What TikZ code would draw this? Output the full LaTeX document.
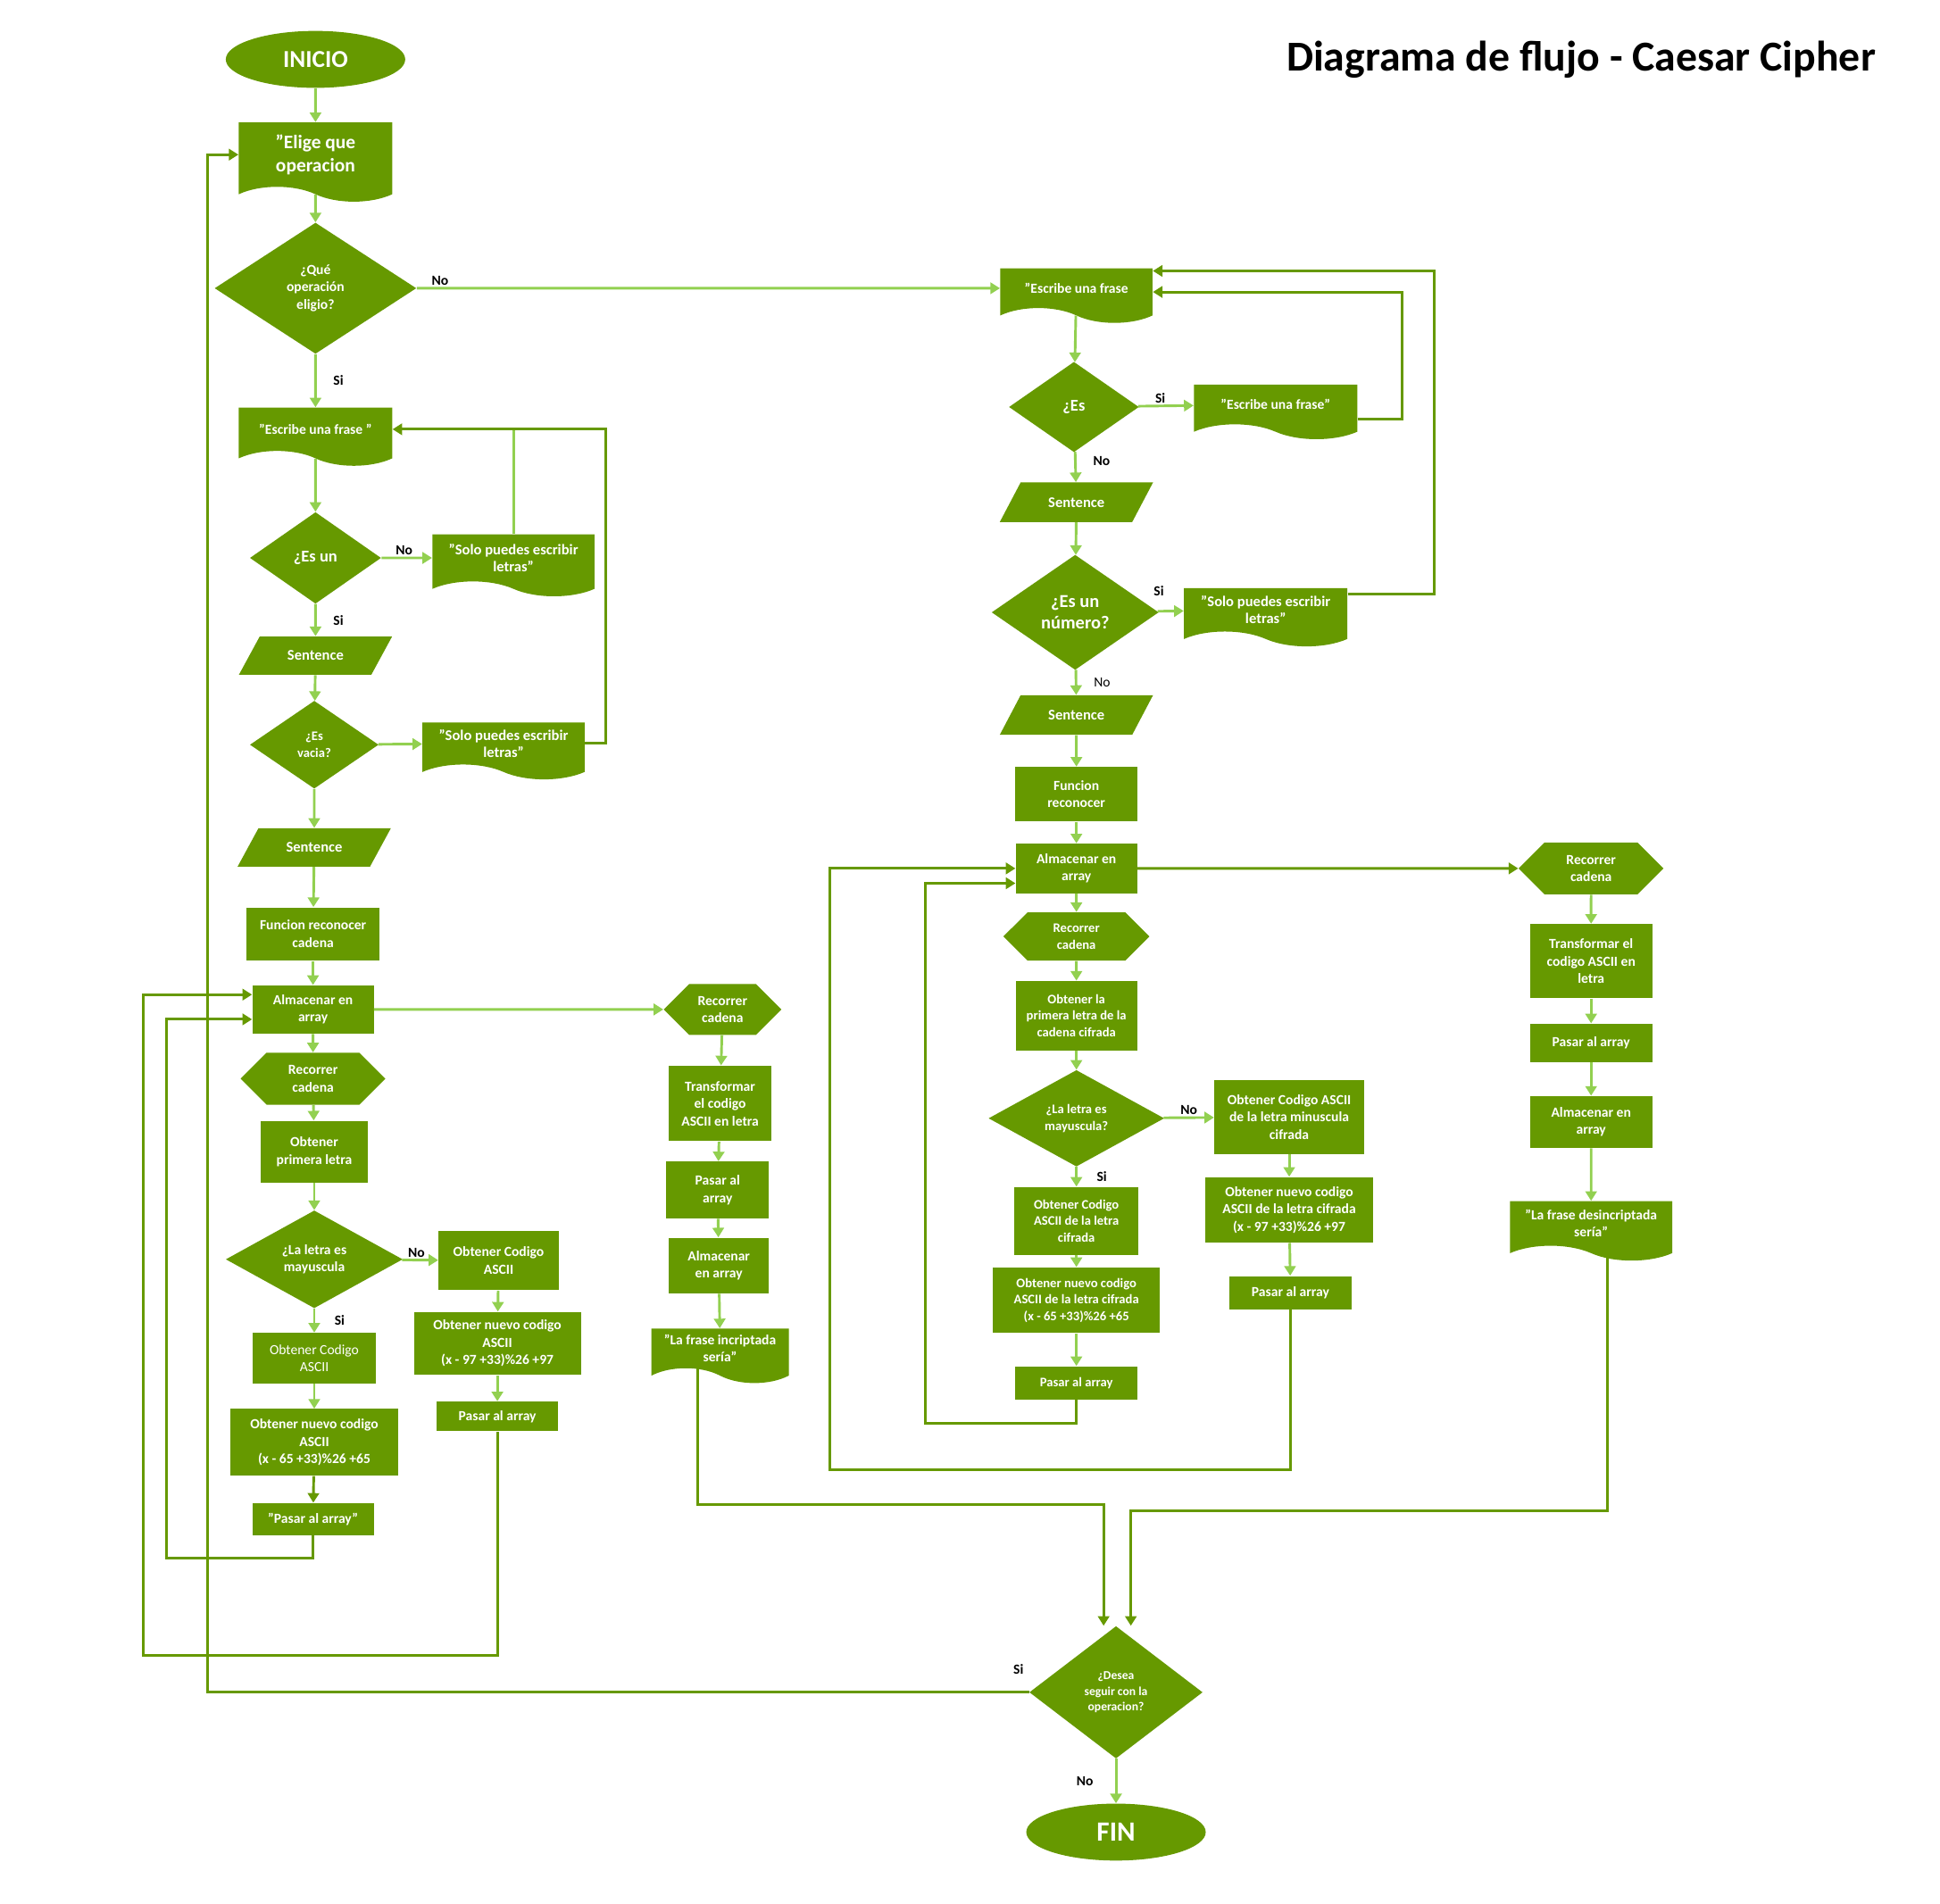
\documentclass[tikz,border=0pt]{standalone}
\usepackage{fontspec}
\setmainfont{Carlito}
\usetikzlibrary{positioning,arrows.meta,shapes.geometric,shapes.symbols}
\definecolor{fgreen}{HTML}{669900}
\definecolor{lgreen}{HTML}{92D050}
\newcommand{\fs}[2]{\fontsize{#1}{#2}\selectfont}

\begin{document}
\begin{tikzpicture}[x=0.025cm, y=-0.025cm,
  base/.style={fill=fgreen, text=white, align=center, inner sep=1pt, font=\bfseries\fs{8}{10}},
  proc/.style={base, rectangle},
  term/.style={base, ellipse},
  doc/.style={base, tape, tape bend top=none, tape bend bottom=out and in, tape bend height=0.3cm},
  dec/.style={base, diamond, aspect=1.5, inner sep=0pt},
  io/.style={base, trapezium, trapezium stretches=true, trapezium left angle=50, trapezium right angle=130, font=\bfseries\fs{8.5}{10}},
  prep/.style={base, signal, signal to=west and east, signal pointer angle=90},
  flow/.style={draw=lgreen, line width=1.5pt, -{Triangle[length=5.5pt,width=6.5pt]}},
  back/.style={draw=fgreen, line width=1.5pt, -{Triangle[length=5.5pt,width=6.5pt]}},
  lbl/.style={font=\bfseries\fs{8}{10}, text=black, inner sep=1pt}]
\useasboundingbox (0,0) rectangle (1568,1539);

\node[font=\bfseries\fs{24.5}{28}, anchor=east] (title) at (1521,48) {Diagrama de flujo - Caesar Cipher};

\node[term, minimum width=3.625cm, minimum height=1.15cm, font=\bfseries\fs{14}{16}] (inicio) at (255,48) {INICIO};
\node[doc, minimum width=3.1cm, minimum height=1.6cm, font=\bfseries\fs{11}{13.5}] (elige) at (255,125) {"Elige que\\operacion};
\node[dec, minimum width=4.075cm, minimum height=2.65cm] (q1) at (255,233) {¿Qué\\operación\\eligio?};
\node[doc, minimum width=3.1cm, minimum height=1.175cm] (esc1) at (255,347) {"Escribe una frase "};
\node[dec, minimum width=2.65cm, minimum height=1.85cm, font=\bfseries\fs{9.5}{11}] (esun) at (255,451) {¿Es un};
\node[doc, minimum width=3.275cm, minimum height=1.25cm, font=\bfseries\fs{8.5}{10}] (solo1) at (415,451) {"Solo puedes escribir\\letras"};
\node[io, minimum width=3.1cm, minimum height=0.775cm] (sent1) at (255,530) {Sentence};
\node[dec, minimum width=2.6cm, minimum height=1.775cm, font=\bfseries\fs{7.5}{9.5}] (vacia) at (254,602) {¿Es\\vacia?};
\node[doc, minimum width=3.275cm, minimum height=1.15cm, font=\bfseries\fs{8.5}{10}] (solo2) at (407,601) {"Solo puedes escribir\\letras"};
\node[io, minimum width=3.1cm, minimum height=0.775cm] (sent2) at (254,685) {Sentence};
\node[proc, minimum width=2.675cm, minimum height=1.075cm] (func1) at (253,755) {Funcion reconocer\\cadena};
\node[proc, minimum width=2.45cm, minimum height=0.975cm] (alm1) at (253,816) {Almacenar en\\array};
\node[prep, minimum width=2.925cm, minimum height=1.05cm] (rec1) at (253,872) {Recorrer\\cadena};
\node[proc, minimum width=2.15cm, minimum height=1.25cm] (obt1) at (254,931) {Obtener\\primera letra};
\node[dec, aspect=1.8, minimum width=3.575cm, minimum height=1.975cm] (may1) at (254,1018) {¿La letra es\\mayuscula};
\node[proc, minimum width=2.475cm, minimum height=1.025cm, font=\fs{8}{10}] (cod1) at (254,1098) {Obtener Codigo\\ASCII};
\node[proc, minimum width=3.4cm, minimum height=1.35cm] (nuevo1) at (254,1166) {Obtener nuevo codigo\\ASCII\\(x - 65 +33)\%26 +65};
\node[proc, minimum width=2.45cm, minimum height=0.65cm] (pasar1) at (253,1228) {"Pasar al array"};
\node[proc, minimum width=2.425cm, minimum height=1.2cm] (cod2) at (403,1019) {Obtener Codigo\\ASCII};
\node[proc, minimum width=3.375cm, minimum height=1.275cm] (nuevo2) at (402,1086) {Obtener nuevo codigo\\ASCII\\(x - 97 +33)\%26 +97};
\node[proc, minimum width=2.45cm, minimum height=0.6cm] (pasar2) at (402,1145) {Pasar al array};

\node[prep, minimum width=2.375cm, minimum height=1.025cm] (rec2) at (584,816) {Recorrer\\cadena};
\node[proc, minimum width=2.075cm, minimum height=1.525cm] (trans1) at (582,892) {Transformar\\el codigo\\ASCII en letra};
\node[proc, minimum width=2.075cm, minimum height=1.15cm] (pasA) at (580,962) {Pasar al\\array};
\node[proc, minimum width=2.025cm, minimum height=1.125cm] (almA) at (581,1023) {Almacenar\\en array};
\node[doc, minimum width=2.775cm, minimum height=1.1cm] (fraseA) at (582,1090) {"La frase incriptada\\sería"};

\node[doc, minimum width=3.075cm, minimum height=1.1cm] (esc2) at (870,233) {"Escribe una frase};
\node[dec, minimum width=2.625cm, minimum height=1.825cm, font=\bfseries\fs{9.5}{11}] (es2) at (868,329) {¿Es};
\node[doc, minimum width=3.3cm, minimum height=1.1cm] (esc3) at (1031,327) {"Escribe una frase"};
\node[io, minimum width=3.1cm, minimum height=0.8cm] (sent3) at (870,406) {Sentence};
\node[dec, minimum width=3.375cm, minimum height=2.325cm, font=\bfseries\fs{10.5}{12.5}] (num) at (869,495) {¿Es un\\número?};
\node[doc, minimum width=3.3cm, minimum height=1.175cm, font=\bfseries\fs{8.5}{10}] (solo3) at (1023,493) {"Solo puedes escribir\\letras"};
\node[io, minimum width=3.1cm, minimum height=0.8cm] (sent4) at (870,578) {Sentence};
\node[proc, minimum width=2.475cm, minimum height=1.1cm] (func2) at (870,642) {Funcion\\reconocer};
\node[proc, minimum width=2.45cm, minimum height=1cm] (alm2) at (870,702) {Almacenar en\\array};
\node[prep, minimum width=2.95cm, minimum height=0.975cm, font=\bfseries\fs{7.5}{9.5}] (rec3) at (870,757) {Recorrer\\cadena};
\node[proc, minimum width=2.45cm, minimum height=1.4cm, font=\bfseries\fs{7.5}{9.5}] (obt2) at (870,821) {Obtener la\\primera letra de la\\cadena cifrada};
\node[dec, aspect=1.8, minimum width=3.55cm, minimum height=1.95cm, font=\bfseries\fs{7.5}{9.5}] (may2) at (870,904) {¿La letra es\\mayuscula?};
\node[proc, minimum width=2.5cm, minimum height=1.375cm, font=\bfseries\fs{7.5}{9.5}] (cod3) at (870,987) {Obtener Codigo\\ASCII de la letra\\cifrada};
\node[proc, minimum width=3.375cm, minimum height=1.325cm, font=\bfseries\fs{7.5}{9.5}] (nuevo3) at (870,1051) {Obtener nuevo codigo\\ASCII de la letra cifrada\\(x - 65 +33)\%26 +65};
\node[proc, minimum width=2.475cm, minimum height=0.675cm, font=\bfseries\fs{7.5}{9.5}] (pasar3) at (870,1118) {Pasar al array};
\node[proc, minimum width=3.025cm, minimum height=1.5cm] (cod4) at (1042,903) {Obtener Codigo ASCII\\de la letra minuscula\\cifrada};
\node[proc, minimum width=3.375cm, minimum height=1.325cm] (nuevo4) at (1042,978) {Obtener nuevo codigo\\ASCII de la letra cifrada\\(x - 97 +33)\%26 +97};
\node[proc, minimum width=2.475cm, minimum height=0.675cm] (pasar4) at (1043,1045) {Pasar al array};

\node[prep, minimum width=2.925cm, minimum height=1.05cm] (rec4) at (1286,702) {Recorrer\\cadena};
\node[proc, minimum width=2.475cm, minimum height=1.5cm] (trans2) at (1286,777) {Transformar el\\codigo ASCII en\\letra};
\node[proc, minimum width=2.475cm, minimum height=0.775cm] (pasB) at (1286,843) {Pasar al array};
\node[proc, minimum width=2.475cm, minimum height=1.05cm] (almB) at (1286,907) {Almacenar en\\array};
\node[doc, minimum width=3.275cm, minimum height=1.2cm] (fraseB) at (1286,989) {"La frase desincriptada\\sería"};

\node[dec, aspect=1.3, minimum width=3.5cm, minimum height=2.675cm, font=\bfseries\fs{7}{9}] (desea) at (902,1368) {¿Desea\\seguir con la\\operacion?};
\node[term, minimum width=3.625cm, minimum height=1.15cm, font=\bfseries\fs{16}{18}] (fin) at (902,1481) {FIN};

\draw[flow] (inicio) -- (elige);
\draw[flow] (elige) -- (q1);
\draw[flow] (q1) -- node[lbl, right=0.3cm] {Si} (esc1);
\draw[flow] (q1) -- node[lbl, above, pos=0.04] {No} (esc2);
\draw[flow] (esc1) -- (esun);
\draw[flow] (esun) -- node[lbl, above, pos=0.45] {No} (solo1);
\draw[flow] (esun) -- node[lbl, right=0.3cm] {Si} (sent1);
\draw[flow] (sent1) -- (vacia);
\draw[flow] (vacia) -- (solo2);
\draw[flow] (vacia) -- (sent2);
\draw[flow] (sent2) -- (func1);
\draw[flow] (func1) -- (alm1);
\draw[flow] (alm1) -- (rec1);
\draw[flow] (rec1) -- (obt1);
\draw[flow] (obt1) -- (may1);
\draw[flow] (may1) -- node[lbl, above, pos=0.4] {No} (cod2);
\draw[flow] (may1) -- node[lbl, right=0.35cm] {Si} (cod1);
\draw[flow] (cod1) -- (nuevo1);
\draw[back] (nuevo1) -- (pasar1);
\draw[flow] (cod2) -- (nuevo2);
\draw[flow] (nuevo2) -- (pasar2);
\draw[flow] (alm1) -- (rec2);
\draw[flow] (rec2) -- (trans1);
\draw[flow] (trans1) -- (pasA);
\draw[flow] (pasA) -- (almA);
\draw[flow] (almA) -- (fraseA);
\draw[lgreen, line width=1.5pt] (solo1.north) -- (solo1.north |- esc1.east);
\draw[back] (solo2.east) -- ++(17,0) |- (esc1.east);
\draw[back] (pasar1.south) -- ++(0,18) -| ([xshift=-1.725cm,yshift=-0.2cm]alm1.west) -- ([yshift=-0.2cm]alm1.west);
\draw[back] (pasar2.south) -- ++(0,181) -| ([xshift=-2.2cm,yshift=0.3cm]alm1.west) -- ([yshift=0.3cm]alm1.west);

\draw[flow] (esc2) -- (es2);
\draw[flow] (es2) -- node[lbl, above, pos=0.4] {Si} (esc3);
\draw[flow] (es2) -- node[lbl, right=0.3cm, pos=0.3] {No} (sent3);
\draw[flow] (sent3) -- (num);
\draw[flow] (num) -- node[lbl, above=0.25cm, pos=0.05] {Si} (solo3);
\draw[flow] (num) -- node[lbl, right=0.3cm, font=\fs{8}{10}] {No} (sent4);
\draw[flow] (sent4) -- (func2);
\draw[flow] (func2) -- (alm2);
\draw[flow] (alm2) -- (rec3);
\draw[flow] (rec3) -- (obt2);
\draw[flow] (obt2) -- (may2);
\draw[flow] (may2) -- node[lbl, above, pos=0.5] {No} (cod4);
\draw[flow] (may2) -- node[lbl, right=0.35cm] {Si} (cod3);
\draw[flow] (cod3) -- (nuevo3);
\draw[flow] (nuevo3) -- (pasar3);
\draw[flow] (cod4) -- (nuevo4);
\draw[flow] (nuevo4) -- (pasar4);
\draw[back] ([yshift=-0.3cm]esc3.east) -- ++(36,0) |- ([yshift=-0.075cm]esc2.east);
\draw[back] ([yshift=0.325cm]solo3.east) -- ++(70,0) |- ([yshift=0.35cm]esc2.east);
\draw[back] (pasar3.south) -- ++(0,19) -| ([xshift=-1.825cm,yshift=-0.3cm]alm2.west) -- ([yshift=-0.3cm]alm2.west);
\draw[back] (pasar4.south) -- ++(0,129) -| ([xshift=-3.75cm]alm2.west) -- (alm2.west);

\draw[back] (alm2) -- (rec4);
\draw[flow] (rec4) -- (trans2);
\draw[flow] (trans2) -- (pasB);
\draw[flow] (pasB) -- (almB);
\draw[flow] (almB) -- (fraseB);

\draw[back] ([xshift=-0.45cm]fraseA.south) |- ([xshift=-0.25cm,yshift=2.45cm]desea.north) -- ([xshift=-0.25cm]desea.north);
\draw[back] ([xshift=0.325cm]fraseB.south) |- ([xshift=0.3cm,yshift=2.325cm]desea.north) -- ([xshift=0.3cm]desea.north);
\draw[back] (desea.west) node[lbl, above left=0.3cm and 0.05cm] {Si} -| ([xshift=-0.625cm]elige.west) -- (elige.west);
\draw[flow] (desea) -- node[lbl, left=0.4cm] {No} (fin);
\end{tikzpicture}
\end{document}
